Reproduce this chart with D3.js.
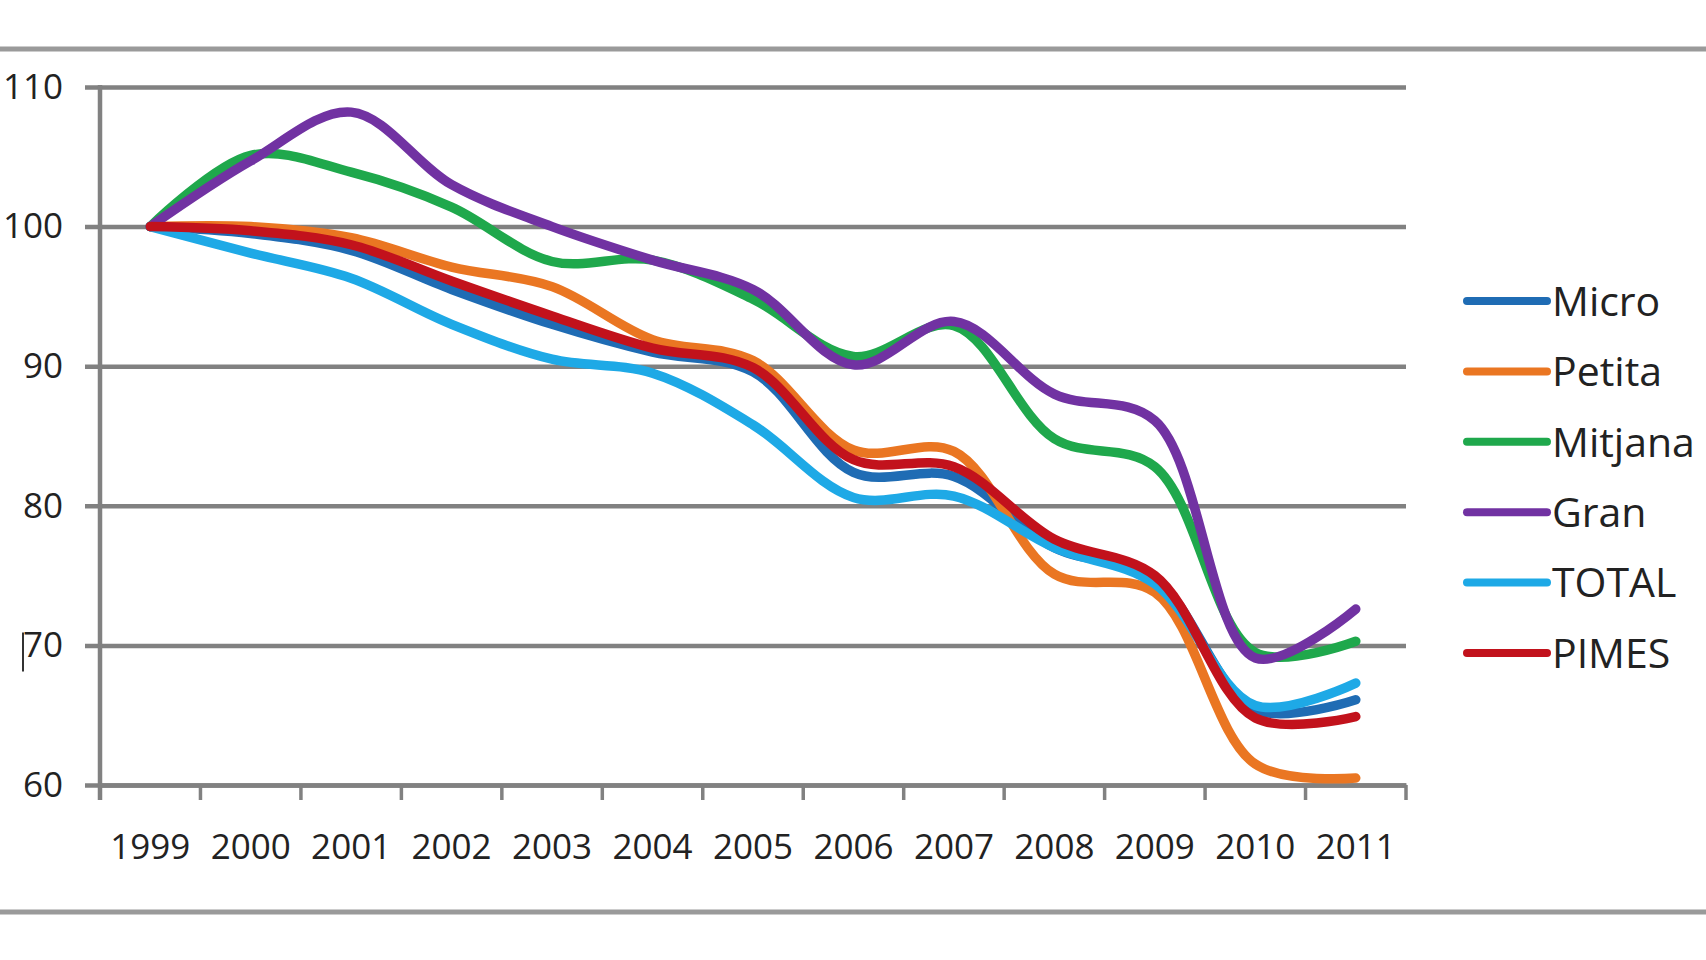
<!DOCTYPE html>
<html>
<head>
<meta charset="utf-8">
<script src="https://d3js.org/d3.v7.min.js"></script>
<style>
    body { margin: 0; background: #fff; }
    svg { display: block; }
    text { font-family: "Open Sans", "Noto Sans", sans-serif; fill: #222; }
</style>
</head>
<body>
<div class="chart"></div>
<script>

const years = ["1999", "2000", "2001", "2002", "2003", "2004", "2005", "2006", "2007", "2008", "2009", "2010", "2011"];
const yTicks = [60, 70, 80, 90, 100, 110];

const micro   = [100, 99.5, 98.3, 95.5, 93.0, 91.0, 89.6, 82.4, 82.1, 77.0, 74.8, 65.4, 66.1];
const petita  = [100, 100.0, 99.2, 97.1, 95.7, 91.9, 90.4, 84.0, 83.9, 75.1, 73.8, 61.5, 60.5];
const mitjana = [100, 105.1, 103.9, 101.4, 97.5, 97.6, 94.8, 90.7, 92.9, 84.8, 82.8, 69.5, 70.3];
const gran    = [100, 104.7, 108.2, 103.0, 100.0, 97.6, 95.5, 90.1, 93.2, 88.0, 86.1, 69.1, 72.6];
const total   = [100, 98.1, 96.3, 93.0, 90.5, 89.5, 85.8, 80.6, 80.7, 77.0, 74.4, 65.7, 67.3];
const pimes   = [100, 99.7, 98.7, 96.1, 93.6, 91.3, 89.9, 83.3, 82.8, 77.6, 75.0, 64.8, 64.9];

const seriesNames = ["Micro", "Petita", "Mitjana", "Gran", "TOTAL", "PIMES"];
const seriesValues = [micro, petita, mitjana, gran, total, pimes];
const seriesColors = ["#1f6cb4", "#ea7622", "#1fa84c", "#7132a2", "#1ea9e6", "#c2121c"];

const width = 1706;
const height = 960;

const svg = d3.select(".chart")
    .append("svg")
    .attr("width", width)
    .attr("height", height);

const x = d3.scaleBand()
    .domain(years)
    .range([100, 1406]);

const y = d3.scaleLinear()
    .domain([60, 110])
    .range([785, 87]);

// top and bottom rules
svg.selectAll(".rule")
    .data([49, 912])
    .enter()
    .append("line")
    .attr("x1", 0)
    .attr("x2", width)
    .attr("y1", d => d)
    .attr("y2", d => d)
    .attr("stroke", "#9a9a9a")
    .attr("stroke-width", 5);

// gridlines + y axis
const yAxis = svg.append("g")
    .attr("transform", "translate(100,0)")
    .call(d3.axisLeft(y).tickValues(yTicks).tickSize(-(1406 - 100)).tickPadding(37).tickSizeOuter(0));

yAxis.select(".domain").remove();
yAxis.selectAll(".tick line")
    .attr("x1", -15)
    .attr("stroke", "#818181")
    .attr("stroke-width", 4.5);
yAxis.selectAll(".tick text")
    .attr("font-size", 35)
    .attr("fill", "#222")
    .style("font-family", "'Open Sans', sans-serif");

svg.append("line")
    .attr("x1", 100).attr("x2", 100)
    .attr("y1", y(110) - 2).attr("y2", y(60) + 15)
    .attr("stroke", "#818181")
    .attr("stroke-width", 4.5);

// stray mark by the 70 label
svg.append("line")
    .attr("x1", 23).attr("x2", 23)
    .attr("y1", y(70) - 13).attr("y2", y(70) + 26)
    .attr("stroke", "#333")
    .attr("stroke-width", 2);

// x axis
const xAxis = svg.append("g")
    .attr("transform", "translate(0," + y(60) + ")")
    .call(d3.axisBottom(x).tickSize(0).tickPadding(49));

xAxis.select(".domain")
    .attr("stroke", "#818181")
    .attr("stroke-width", 4.5);
xAxis.selectAll(".tick text")
    .attr("font-size", 35)
    .attr("fill", "#222")
    .style("font-family", "'Open Sans', sans-serif");

const boundaries = years.map(d => x(d)).concat([x(years[years.length - 1]) + x.bandwidth()]);
svg.selectAll(".xtick")
    .data(boundaries)
    .enter()
    .append("line")
    .attr("x1", d => d)
    .attr("x2", d => d)
    .attr("y1", y(60))
    .attr("y2", y(60) + 15)
    .attr("stroke", "#818181")
    .attr("stroke-width", 3.5);

// lines
const line = d3.line()
    .x((d, i) => x(years[i]) + x.bandwidth() / 2)
    .y(d => y(d))
    .curve(d3.curveCatmullRom.alpha(0.5));

svg.selectAll(".series")
    .data(seriesValues)
    .enter()
    .append("path")
    .attr("d", d => line(d))
    .attr("fill", "none")
    .attr("stroke", (d, i) => seriesColors[i])
    .attr("stroke-width", 9.5)
    .attr("stroke-linecap", "round")
    .attr("stroke-linejoin", "round");

// legend
const legend = svg.selectAll(".legend")
    .data(seriesNames)
    .enter()
    .append("g")
    .attr("transform", (d, i) => "translate(1467," + (301 + i * 70.4) + ")");

legend.append("line")
    .attr("x1", 0)
    .attr("x2", 80)
    .attr("stroke", (d, i) => seriesColors[i])
    .attr("stroke-width", 8)
    .attr("stroke-linecap", "round");

legend.append("text")
    .attr("x", 85)
    .attr("dy", "0.36em")
    .attr("font-size", 41)
    .text(d => d);

</script>
</body>
</html>
